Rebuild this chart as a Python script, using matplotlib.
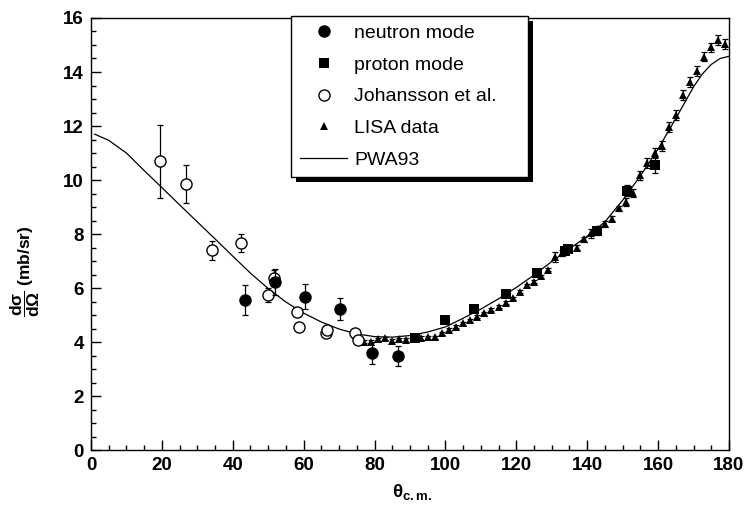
# np elastic cross section vs c.m. angle, ROOT-like look

import matplotlib
matplotlib.use("Agg")
import matplotlib.pyplot as plt
from matplotlib.lines import Line2D
from matplotlib.patches import Rectangle
from matplotlib.ticker import MultipleLocator

plt.rcParams["font.family"] = ["Liberation Sans", "DejaVu Sans"]
plt.rcParams["mathtext.fontset"] = "custom"
plt.rcParams["mathtext.rm"] = "Liberation Sans"
plt.rcParams["mathtext.it"] = "Liberation Sans:italic"
plt.rcParams["mathtext.bf"] = "Liberation Sans:bold"

# data (theta in deg, cross section in mb/sr)
neutron_theta = [43.5, 51.9, 60.4, 70.3, 79.3, 86.6]
neutron_xs = [5.56, 6.22, 5.67, 5.22, 3.60, 3.50]
neutron_err = [0.55, 0.48, 0.46, 0.42, 0.40, 0.37]

proton_theta = [91.4, 99.9, 108.1, 117.1, 125.8, 133.6, 134.6, 142.8, 151.2, 159.1]
proton_xs = [4.15, 4.81, 5.24, 5.79, 6.56, 7.38, 7.45, 8.12, 9.60, 10.56]
proton_err = [0.08, 0.08, 0.08, 0.08, 0.10, 0.10, 0.10, 0.15, 0.20, 0.30]

johansson_theta = [19.5, 26.8, 34.1, 42.3, 49.9, 51.6, 58.0, 58.8, 66.3, 66.5, 74.5, 75.4]
johansson_xs = [10.70, 9.85, 7.40, 7.67, 5.74, 6.36, 5.10, 4.57, 4.35, 4.44, 4.32, 4.07]
johansson_err = [1.35, 0.70, 0.35, 0.33, 0.25, 0.30, 0.15, 0.12, 0.10, 0.10, 0.10, 0.08]

lisa_theta = [77, 79, 81, 83, 85, 87, 89, 91, 93, 95, 97, 99, 101, 103, 105, 107,
              109, 111, 113, 115, 117, 119, 121, 123, 125, 127, 129, 131, 133, 135,
              137, 139, 141, 143, 145, 147, 149, 151, 153, 155, 157, 159, 161, 163,
              165, 167, 169, 171, 173, 175, 177, 179]
lisa_xs = [4.01, 4.01, 4.10, 4.14, 4.05, 4.10, 4.07, 4.12, 4.15, 4.17, 4.18, 4.32,
           4.45, 4.57, 4.69, 4.81, 4.94, 5.06, 5.19, 5.31, 5.46, 5.62, 5.86, 6.10,
           6.23, 6.43, 6.68, 7.15, 7.30, 7.42, 7.50, 7.80, 8.02, 8.20, 8.37, 8.57,
           8.95, 9.20, 9.53, 10.17, 10.62, 11.01, 11.26, 11.95, 12.41, 13.15, 13.64,
           14.05, 14.57, 14.91, 15.19, 15.04]
lisa_err = [0.06, 0.06, 0.06, 0.06, 0.06, 0.06, 0.06, 0.06, 0.06, 0.06, 0.06, 0.06,
            0.06, 0.06, 0.06, 0.06, 0.06, 0.06, 0.06, 0.06, 0.06, 0.06, 0.06, 0.06,
            0.06, 0.06, 0.06, 0.20, 0.10, 0.10, 0.10, 0.10, 0.15, 0.10, 0.10, 0.10,
            0.10, 0.15, 0.15, 0.18, 0.18, 0.18, 0.18, 0.18, 0.18, 0.18, 0.18,
            0.18, 0.18, 0.18, 0.18, 0.18]

pwa_theta = [1, 5, 10, 15, 20, 25, 30, 35, 40, 45, 50, 55, 60, 65, 70, 75, 80, 85,
             90, 95, 100, 105, 110, 115, 120, 125, 130, 135, 140, 145, 150, 155,
             160, 165, 170, 172.5, 175, 177.5, 180]
pwa_xs = [11.70, 11.47, 11.00, 10.35, 9.72, 9.08, 8.45, 7.82, 7.18, 6.55, 5.98,
          5.48, 5.07, 4.74, 4.48, 4.30, 4.20, 4.18, 4.24, 4.37, 4.56, 4.88, 5.22,
          5.60, 6.02, 6.48, 6.98, 7.45, 7.92, 8.45, 9.25, 10.15, 11.15, 12.28,
          13.45, 13.93, 14.28, 14.50, 14.58]

fig = plt.figure(figsize=(7.45, 5.07), dpi=100)
ax = fig.add_axes([0.1221, 0.1124, 0.8564, 0.8521])

eb = dict(fmt="none", ecolor="black", elinewidth=0.9, capsize=2.5, capthick=0.9)

ax.plot(pwa_theta, pwa_xs, color="black", lw=0.9, zorder=2)

ax.errorbar(lisa_theta, lisa_xs, yerr=lisa_err, zorder=3, **eb)
ax.plot(lisa_theta, lisa_xs, "^", color="black", ms=6, mew=0, zorder=3)

ax.errorbar(johansson_theta, johansson_xs, yerr=johansson_err, zorder=4, **eb)
ax.plot(johansson_theta, johansson_xs, "o", mfc="white", mec="black", ms=8,
        mew=1.0, zorder=4)

ax.errorbar(proton_theta, proton_xs, yerr=proton_err, zorder=5, **eb)
ax.plot(proton_theta, proton_xs, "s", color="black", ms=7, mew=0, zorder=5)

ax.errorbar(neutron_theta, neutron_xs, yerr=neutron_err, zorder=6, **eb)
ax.plot(neutron_theta, neutron_xs, "o", color="black", ms=9, mew=0, zorder=6)

ax.set_xlim(0, 180)
ax.set_ylim(0, 16)
ax.xaxis.set_major_locator(MultipleLocator(20))
ax.xaxis.set_minor_locator(MultipleLocator(5))
ax.yaxis.set_major_locator(MultipleLocator(2))
ax.yaxis.set_minor_locator(MultipleLocator(0.5))
ax.tick_params(which="both", direction="in", top=False, right=False, width=1)
ax.tick_params(which="major", length=7.5, labelsize=13.5, pad=5)
ax.tick_params(which="minor", length=3.8)
for lab in ax.get_xticklabels() + ax.get_yticklabels():
    lab.set_fontweight("bold")
for sp in ax.spines.values():
    sp.set_linewidth(1)

ax.set_xlabel(r"$\mathbf{\theta_{c.m.}}$", fontsize=13.5)
ax.xaxis.set_label_coords(0.503, -0.075)
ax.set_ylabel(r"$\mathbf{\dfrac{d\sigma}{d\Omega}}$ (mb/sr)", fontsize=12.5,
              fontweight="bold")
ax.yaxis.set_label_coords(-0.077, 0.414)

handles = [
    Line2D([], [], ls="none", marker="o", color="black", ms=9, mew=0),
    Line2D([], [], ls="none", marker="s", color="black", ms=7, mew=0),
    Line2D([], [], ls="none", marker="o", mfc="white", mec="black", ms=8, mew=1.0),
    Line2D([], [], ls="none", marker="^", color="black", ms=6, mew=0),
    Line2D([], [], color="black", lw=0.9),
]
labels = ["neutron mode", "proton mode", "Johansson et al.", "LISA data", "PWA93"]
leg = ax.legend(handles, labels, loc="upper left",
                bbox_to_anchor=(0.3135, 0.5, 0.3715, 0.505), mode="expand",
                borderaxespad=0, fancybox=False, framealpha=1, edgecolor="black",
                fontsize=14, handlelength=2.45, handletextpad=0.35,
                labelspacing=0.72, borderpad=0.45)
leg.get_frame().set_linewidth(1)
leg.set_zorder(10)

# thick black drop shadow like the ROOT legend box, placed under the legend
fig.canvas.draw()
bb = leg.get_frame().get_window_extent()
off = 5
(x0, y0), (x1, y1) = ax.transAxes.inverted().transform(
    [(bb.x0 + off, bb.y0 - off), (bb.x1 + off, bb.y1 - off)])
ax.add_patch(Rectangle((x0, y0), x1 - x0, y1 - y0, transform=ax.transAxes,
                       facecolor="black", edgecolor="none", zorder=9,
                       clip_on=False))

fig.savefig("out.png", dpi=100)
